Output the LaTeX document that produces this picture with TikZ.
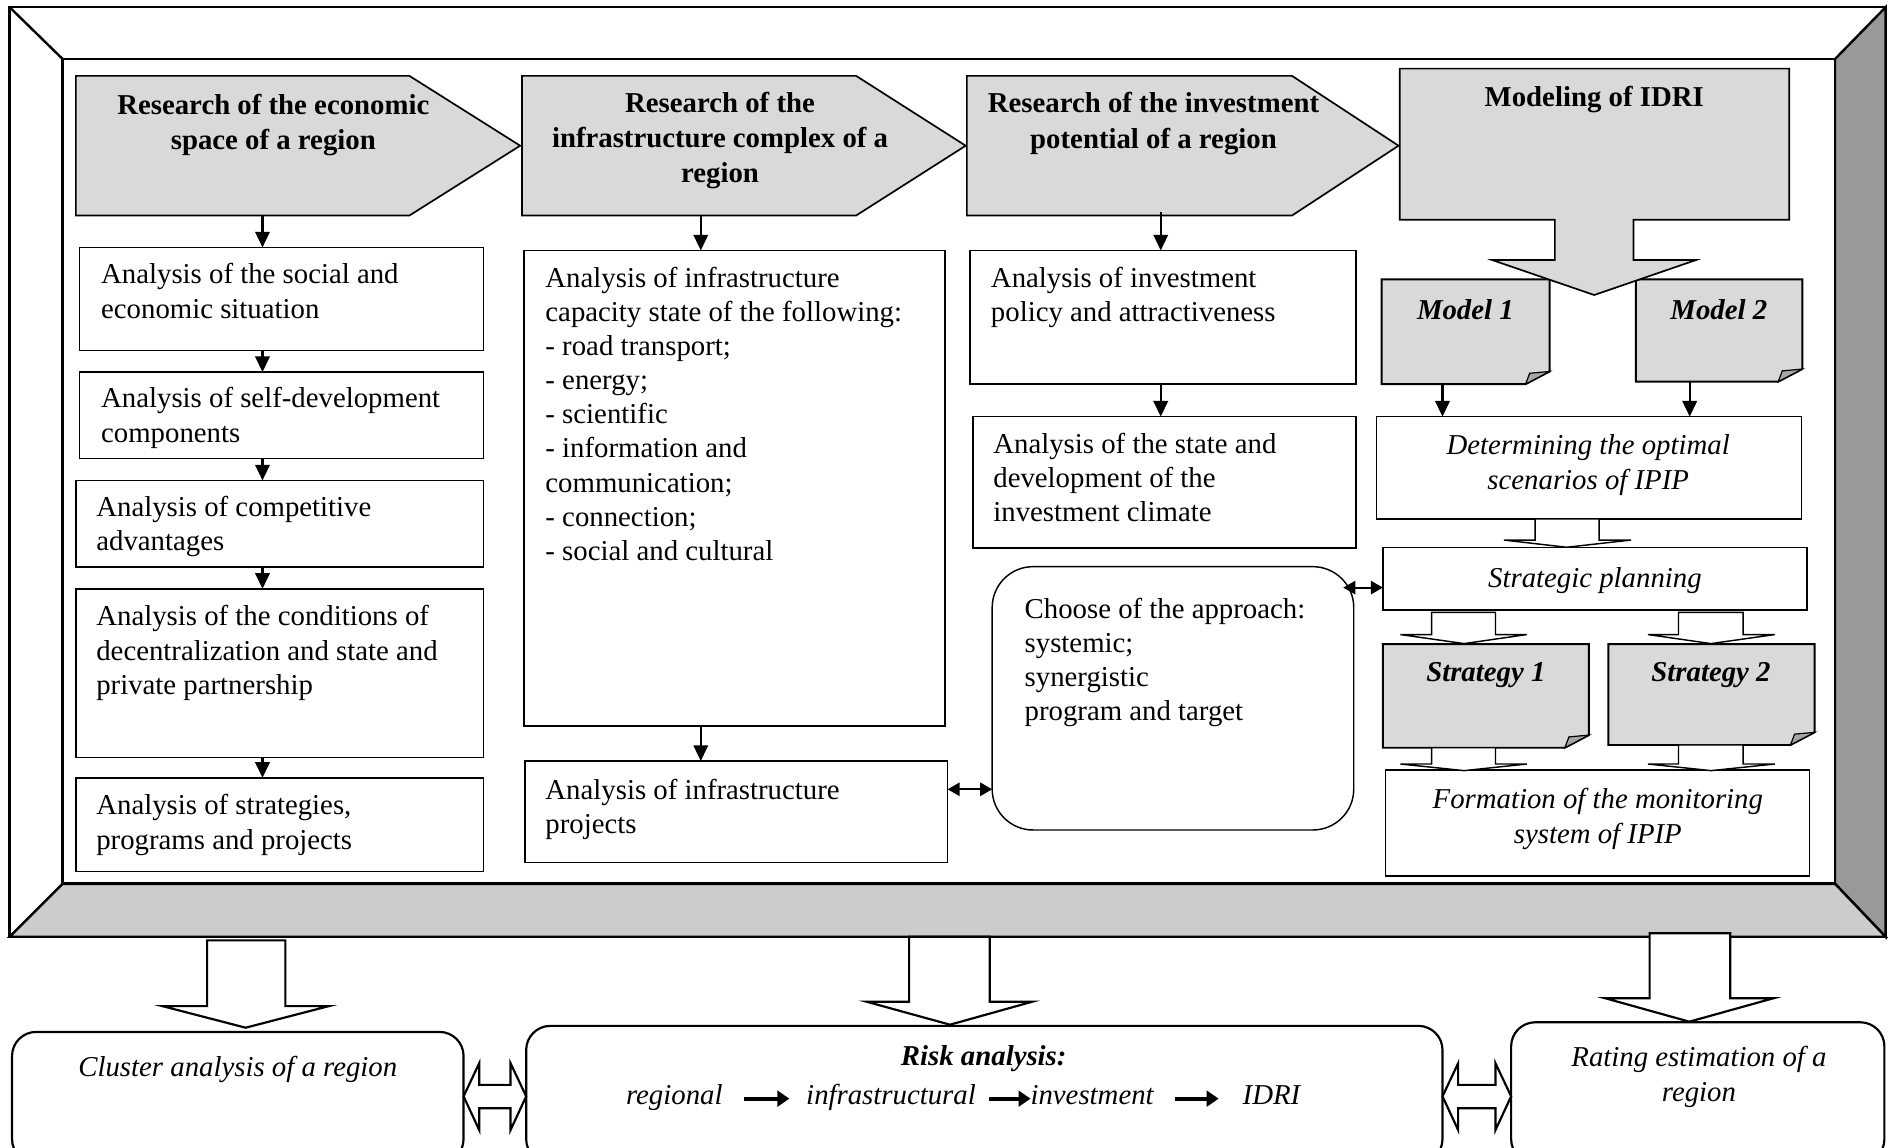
\documentclass[tikz,border=0pt]{standalone}
\usepackage{fontspec}
\setmainfont{Liberation Serif}
\usetikzlibrary{arrows.meta}
\newcommand\placebox[6]{\node[#1, anchor=north west, minimum width={(#5-#3)*0.5bp}, minimum height={(#6-#4)*0.5bp}] (#2) at (#3,#4) {};}
\newcommand\dogear[1]{%
  \draw[line width=0.8bp, fill=black!15] (#1.north west) -- (#1.north east) -- ([yshift=5.25bp]#1.south east) -- ([xshift=-10bp]#1.south east) -- (#1.south west) -- cycle;
  \draw[line width=0.5bp, fill=black!35] ([yshift=5.25bp]#1.south east) -- ([xshift=-8.3bp,yshift=4.5bp]#1.south east) -- ([xshift=-10bp]#1.south east) -- cycle;}
\begin{document}
\begin{tikzpicture}[x=0.5bp,y=-0.5bp,
  every node/.style={inner sep=0pt, outer sep=0pt, font=\fontsize{12}{14.2}\selectfont},
  box/.style={draw, line width=0.6bp, fill=white},
  gbox/.style={draw=none},
  txt/.style={anchor=north west, align=left},
  ctxt/.style={anchor=north, align=center},
  hdr/.style={draw, line width=0.7bp, fill=black!15},
  arr/.style={line width=0.9bp, -{Triangle[length=6.5bp,width=6bp]}},
  dblarr/.style={line width=0.9bp, {Triangle[length=5bp,width=5.5bp]}-{Triangle[length=5bp,width=5.5bp]}},
  hollow/.style={draw, line width=0.6bp, fill=white},
  hollowb/.style={draw, line width=0.9bp, fill=white},
  riskarr/.style={line width=1.6bp, -{Triangle[length=5bp,width=6.5bp]}},
]
\useasboundingbox (0,0) rectangle (1568,953);
\fill[white] (0,0) rectangle (1568,953);
% frame
\draw[line width=1bp, fill=white] (8,6) rectangle (1566,778);
\filldraw[line width=1bp, fill=black!40] (1566,6) -- (1524,49) -- (1524,734) -- (1566,778) -- cycle;
\filldraw[line width=1bp, fill=black!20] (8,778) -- (52,734) -- (1524,734) -- (1566,778) -- cycle;
\draw[line width=1bp] (8,6) -- (52,49);
\draw[line width=1.2bp, fill=white] (52,49) rectangle (1524,734);

% headers
\draw[hdr] (63,63) -- (340,63) -- (432,121) -- (340,179) -- (63,179) -- cycle;
\draw[hdr] (433.5,63) -- (711,63) -- (802,121) -- (711,179) -- (433.5,179) -- cycle;
\draw[hdr] (803,63) -- (1073,63) -- (1161.5,121) -- (1073,179) -- (803,179) -- cycle;
\node[ctxt, font=\fontsize{12}{14.6}\selectfont\bfseries] (h1t) at (227,78) {Research of the economic\\space of a region};
\node[ctxt, font=\fontsize{12}{14.4}\selectfont\bfseries] (h2t) at (598,77) {Research of the\\infrastructure complex of a\\region};
\node[ctxt, font=\fontsize{12}{14.6}\selectfont\bfseries] (h3t) at (958,77) {Research of the investment\\potential of a region};

% column 1
\placebox{box}{b1}{66}{205.5}{401.5}{291}
\placebox{box}{b2}{66}{309}{401.5}{381}
\placebox{box}{b3}{63}{399}{401.5}{471}
\placebox{box}{b4}{63}{489}{401.5}{629}
\placebox{box}{b5}{63}{646}{401.5}{724}
\node[txt] (b1t) at (84,219) {Analysis of the social and\\economic situation};
\node[txt] (b2t) at (84,322) {Analysis of self-development\\components};
\node[txt] (b3t) at (80,412) {Analysis of competitive\\advantages};
\node[txt] (b4t) at (80,503) {Analysis of the conditions of\\decentralization and state and\\private partnership};
\node[txt] (b5t) at (80,660) {Analysis of strategies,\\programs and projects};
\coordinate (h1b) at (218,179);
\draw[arr] (h1b) -- (h1b |- b1.north);
\draw[arr] (b1.south -| h1b) -- (b2.north -| h1b);
\draw[arr] (b2.south -| h1b) -- (b3.north -| h1b);
\draw[arr] (b3.south -| h1b) -- (b4.north -| h1b);
\draw[arr] (b4.south -| h1b) -- (b5.north -| h1b);

% column 2
\placebox{box}{c1}{435}{208}{785}{603}
\placebox{box}{c2}{436}{632}{787}{716.5}
\node[txt] (c1t) at (453,222) {Analysis of infrastructure\\capacity state of the following:\\- road transport;\\- energy;\\- scientific\\- information and\\communication;\\- connection;\\- social and cultural};
\node[txt] (c2t) at (453,647) {Analysis of infrastructure\\projects};
\coordinate (h2b) at (582,179);
\draw[arr] (h2b) -- (h2b |- c1.north);
\draw[arr] (c1.south -| h2b) -- (c2.north -| h2b);

% column 3
\placebox{box}{d1}{805.6}{208}{1126}{319}
\placebox{box}{d2}{808}{346}{1126}{455}
\placebox{box, rounded corners=17bp}{e}{824}{470.6}{1124.3}{689.3}
\node[txt] (d1t) at (823,222) {Analysis of investment\\policy and attractiveness};
\node[txt] (d2t) at (825,360) {Analysis of the state and\\development of the\\investment climate};
\node[txt] (et) at (851,497) {Choose of the approach:\\systemic;\\synergistic\\program and target};
\coordinate (h3b) at (964,176);
\draw[arr] (h3b) -- (h3b |- d1.north);
\draw[arr] (d1.south -| h3b) -- (d2.north -| h3b);
\coordinate (ce) at (787,655.5);
\draw[dblarr] (ce -| c2.east) -- (ce -| e.west);

% column 4
\placebox{gbox}{m1}{1147.4}{232}{1287}{319}
\placebox{gbox}{m2}{1358.6}{232}{1496.8}{317}
\dogear{m1}
\dogear{m2}
\draw[hdr] (1162.5,57) -- (1486,57) -- (1486,182.5) -- (1356.6,182.5) -- (1356.6,216) -- (1408.4,216) -- (1324,245) -- (1239.4,216) -- (1291.3,216) -- (1291.3,182.5) -- (1162.5,182.5) -- cycle;
\node[ctxt, font=\fontsize{12}{14.2}\selectfont\bfseries] (mdt) at (1324,72) {Modeling of IDRI};
\node[ctxt, font=\fontsize{12}{14.2}\selectfont\bfseries\itshape] (m1t) at (1217,248.5) {Model 1};
\node[ctxt, font=\fontsize{12}{14.2}\selectfont\bfseries\itshape] (m2t) at (1427.5,248.5) {Model 2};

\placebox{box}{dt}{1143}{346}{1496}{431}
\placebox{box}{sp}{1148.5}{454.5}{1500.7}{506.6}
\placebox{gbox}{s1}{1148.5}{535}{1319.6}{621}
\placebox{gbox}{s2}{1335.7}{535}{1507}{618.7}
\dogear{s1}
\dogear{s2}
\placebox{box}{fm}{1150.8}{639.5}{1503}{727.5}
\node[ctxt, font=\fontsize{12}{14.6}\selectfont\itshape] (dtt) at (1319,360.5) {Determining the optimal\\scenarios of IPIP};
\node[ctxt, font=\fontsize{12}{14.2}\selectfont\itshape] (spt) at (1324.6,471) {Strategic planning};
\node[ctxt, font=\fontsize{12}{14.2}\selectfont\bfseries\itshape] (s1t) at (1234,550) {Strategy 1};
\node[ctxt, font=\fontsize{12}{14.2}\selectfont\bfseries\itshape] (s2t) at (1421,550) {Strategy 2};
\node[ctxt, font=\fontsize{12}{14.8}\selectfont\itshape] (fmt) at (1327,654.5) {Formation of the monitoring\\system of IPIP};

\coordinate (m1a) at (1198,0);
\coordinate (m2a) at (1403.3,0);
\draw[arr] (m1.south -| m1a) -- (dt.north -| m1a);
\draw[arr] (m2.south -| m2a) -- (dt.north -| m2a);
\coordinate (q1) at (1115.6,488);
\draw[dblarr] (q1) -- (q1 -| sp.west);

% hollow arrows (right column)
\draw[hollow] (1275,431) -- (1275,448.5) -- (1249,448.5) -- (1301,454.5) -- (1354.6,448.5) -- (1328,448.5) -- (1328,431) -- cycle;
\draw[hollow] (1189,508.5) -- (1189,527) -- (1163,527) -- (1216,534.5) -- (1268,527) -- (1242,527) -- (1242,508.5) -- cycle;
\draw[hollow] (1394,508.5) -- (1394,527) -- (1368.6,527) -- (1421,534.5) -- (1474,527) -- (1447.6,527) -- (1447.6,508.5) -- cycle;
\draw[hollow] (1189,621) -- (1189,634.5) -- (1163,634.5) -- (1216,640) -- (1268,634.5) -- (1242,634.5) -- (1242,621) -- cycle;
\draw[hollow] (1394,618.7) -- (1394,634.5) -- (1368.6,634.5) -- (1421,640) -- (1474,634.5) -- (1447.6,634.5) -- (1447.6,618.7) -- cycle;

% bottom hollow arrows
\draw[hollowb] (172,781) -- (237,781) -- (237,835.6) -- (273,835.6) -- (204,853.5) -- (135,835.6) -- (172,835.6) -- cycle;
\draw[hollowb] (755,778) -- (822,778) -- (822,832) -- (857,832) -- (789,851) -- (720,832) -- (755,832) -- cycle;
\draw[hollowb] (1370,775) -- (1437,775) -- (1437,829) -- (1473,829) -- (1403,848.5) -- (1333,829) -- (1370,829) -- cycle;

% bottom boxes
\placebox{box, line width=0.9bp, rounded corners=10bp}{cl}{10}{857}{385}{966}
\placebox{box, line width=0.9bp, rounded corners=10bp}{ra}{437}{852}{1198}{966}
\placebox{box, line width=0.9bp, rounded corners=10bp}{rt}{1255}{849}{1565}{966}
\node[ctxt, font=\fontsize{12}{14.2}\selectfont\itshape] (clt) at (197.5,877) {Cluster analysis of a region};
\node[ctxt, font=\fontsize{12}{14.2}\selectfont\bfseries\itshape] (rat) at (817,868) {Risk analysis:};
\node[anchor=base, font=\fontsize{12}{14.2}\selectfont\itshape] (rr1) at (560,917) {regional};
\node[anchor=base, font=\fontsize{12}{14.2}\selectfont\itshape] (rr2) at (740,917) {infrastructural};
\node[anchor=base, font=\fontsize{12}{14.2}\selectfont\itshape] (rr3) at (907,917) {investment};
\node[anchor=base, font=\fontsize{12}{14.2}\selectfont\itshape] (rr4) at (1056,917) {IDRI};
\draw[riskarr] ([xshift=9bp]rr1.mid east) -- ([xshift=-7bp]rr2.mid west);
\draw[riskarr] ([xshift=5.5bp]rr2.mid east) -- (rr3.mid west);
\draw[riskarr] ([xshift=9bp]rr3.mid east) -- ([xshift=-10bp]rr4.mid west);
\node[ctxt, font=\fontsize{12}{14.8}\selectfont\itshape] (rtt) at (1411,868.5) {Rating estimation of a\\region};

% bottom double hollow arrows
\draw[hollowb] (cl.east |- 0,910.5) -- (398,883) -- (398,901) -- (424,901) -- (424,883) -- (ra.west |- 0,910.5) -- (424,938.5) -- (424,920.4) -- (398,920.4) -- (398,938.5) -- cycle;
\draw[hollowb] (ra.east |- 0,910.5) -- (1211,883) -- (1211,901) -- (1242,901) -- (1242,883) -- (rt.west |- 0,910.5) -- (1242,938.5) -- (1242,920.4) -- (1211,920.4) -- (1211,938.5) -- cycle;
\end{tikzpicture}
\end{document}
